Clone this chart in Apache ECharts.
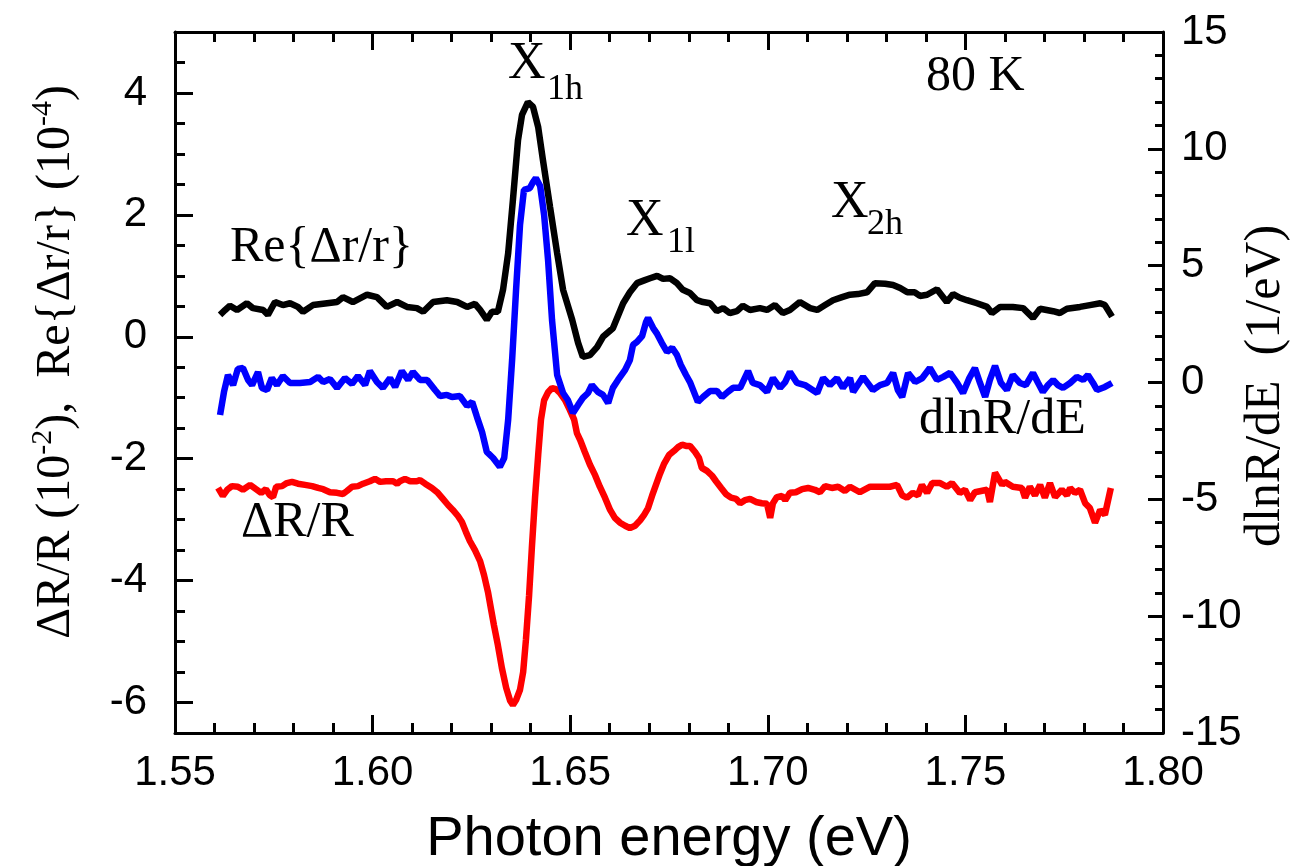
<!DOCTYPE html>
<html>
<head>
<meta charset="utf-8">
<script src="https://cdn.jsdelivr.net/npm/echarts@6/dist/echarts.min.js"></script>
<style>
html,body{margin:0;padding:0;background:#fff;}
#c{width:1295px;height:866px;}
</style>
</head>
<body>
<div id="c"></div>
<script>
// ---- data ----
const blackE = [1.5614,1.5627,1.5639,1.5657,1.5682,1.5697,1.5723,1.5735,1.5753,1.5773,1.5791,1.5811,1.5824,1.5849,1.5885,1.5910,1.5925,1.5950,1.5986,1.6011,1.6036,1.6062,1.6087,1.6112,1.6128,1.6153,1.6188,1.6214,1.6239,1.6259,1.6272,1.6289,1.6302,1.6317,1.6330,1.6343,1.6355,1.6368,1.6378,1.6393,1.6406,1.6419,1.6431,1.6449,1.6467,1.6482,1.6505,1.6520,1.6532,1.6550,1.6568,1.6583,1.6608,1.6634,1.6651,1.6669,1.6689,1.6702,1.6720,1.6735,1.6753,1.6770,1.6785,1.6803,1.6821,1.6836,1.6854,1.6871,1.6887,1.6904,1.6922,1.6937,1.6955,1.6980,1.6998,1.7018,1.7038,1.7056,1.7081,1.7107,1.7125,1.7145,1.7165,1.7188,1.7208,1.7228,1.7251,1.7271,1.7297,1.7317,1.7335,1.7353,1.7372,1.7385,1.7403,1.7428,1.7453,1.7469,1.7486,1.7504,1.7529,1.7555,1.7567,1.7588,1.7620,1.7646,1.7671,1.7689,1.7722,1.7739,1.7757,1.7790,1.7815,1.7841,1.7853,1.7871];
const blackV = [0.36,0.44,0.51,0.44,0.55,0.47,0.44,0.36,0.57,0.52,0.55,0.49,0.41,0.52,0.55,0.57,0.65,0.57,0.69,0.65,0.49,0.57,0.49,0.47,0.41,0.57,0.60,0.57,0.49,0.54,0.44,0.28,0.41,0.41,0.77,1.37,2.24,3.23,3.64,3.85,3.77,3.44,2.90,2.13,1.37,0.77,0.28,-0.10,-0.33,-0.30,-0.17,0.00,0.14,0.55,0.73,0.88,0.93,0.96,1.00,0.95,0.96,0.88,0.77,0.72,0.60,0.57,0.55,0.42,0.47,0.39,0.42,0.51,0.44,0.47,0.44,0.52,0.39,0.44,0.57,0.47,0.44,0.52,0.60,0.65,0.69,0.70,0.73,0.88,0.87,0.85,0.80,0.73,0.73,0.67,0.69,0.78,0.57,0.70,0.64,0.60,0.55,0.49,0.39,0.49,0.49,0.47,0.31,0.46,0.42,0.39,0.46,0.49,0.52,0.55,0.52,0.33];

const blueE = [1.5614,1.5624,1.5634,1.5647,1.5659,1.5672,1.5685,1.5695,1.5710,1.5720,1.5733,1.5745,1.5758,1.5773,1.5791,1.5816,1.5842,1.5862,1.5875,1.5892,1.5910,1.5930,1.5948,1.5963,1.5981,1.5993,1.6011,1.6026,1.6044,1.6057,1.6074,1.6090,1.6102,1.6120,1.6138,1.6158,1.6171,1.6188,1.6201,1.6221,1.6239,1.6252,1.6264,1.6277,1.6289,1.6305,1.6322,1.6333,1.6343,1.6353,1.6363,1.6373,1.6383,1.6398,1.6406,1.6413,1.6424,1.6434,1.6444,1.6454,1.6467,1.6482,1.6494,1.6507,1.6520,1.6532,1.6545,1.6555,1.6570,1.6583,1.6596,1.6608,1.6621,1.6639,1.6651,1.6659,1.6669,1.6682,1.6692,1.6697,1.6710,1.6720,1.6732,1.6745,1.6758,1.6770,1.6780,1.6793,1.6803,1.6813,1.6823,1.6836,1.6854,1.6871,1.6884,1.6899,1.6912,1.6930,1.6950,1.6962,1.6980,1.6998,1.7013,1.7031,1.7044,1.7056,1.7074,1.7094,1.7125,1.7140,1.7157,1.7175,1.7190,1.7208,1.7216,1.7241,1.7266,1.7284,1.7302,1.7317,1.7329,1.7340,1.7355,1.7373,1.7391,1.7410,1.7428,1.7444,1.7461,1.7479,1.7494,1.7510,1.7524,1.7537,1.7550,1.7562,1.7575,1.7590,1.7605,1.7620,1.7638,1.7653,1.7671,1.7684,1.7696,1.7709,1.7722,1.7734,1.7747,1.7765,1.7782,1.7798,1.7810,1.7823,1.7833,1.7853,1.7871];
const blueV = [-1.39,-0.40,0.32,-0.11,0.58,0.62,0.11,-0.11,0.45,-0.23,-0.32,0.19,-0.11,0.28,-0.02,-0.02,0.02,0.24,0.02,0.15,-0.23,0.19,-0.06,0.28,-0.11,0.49,0.02,-0.23,0.19,-0.19,0.49,0.11,0.45,0.11,0.11,-0.32,-0.58,-0.53,-0.62,-0.58,-1.00,-0.83,-1.47,-2.12,-2.97,-3.23,-3.61,-3.23,-1.60,0.96,3.96,6.74,8.24,8.32,8.58,8.75,8.41,7.17,5.24,2.68,0.32,-0.45,-0.75,-1.30,-0.96,-0.66,-0.45,-0.11,-0.40,-0.53,-0.88,-0.23,0.11,0.54,0.96,1.61,1.74,1.99,2.59,2.76,2.33,2.08,1.69,1.31,1.48,1.18,0.75,0.32,0.02,-0.40,-0.83,-0.62,-0.36,-0.36,-0.62,-0.40,-0.23,-0.23,0.49,-0.02,-0.11,-0.40,0.19,-0.23,0.02,0.45,-0.02,-0.11,-0.45,0.19,-0.11,0.19,-0.23,0.19,-0.40,0.24,-0.32,-0.11,-0.02,0.41,-0.32,-0.62,0.41,0.02,0.19,0.62,0.11,0.24,0.41,-0.02,-0.45,0.19,0.62,-0.02,-0.62,0.11,0.71,-0.02,-0.32,0.32,-0.02,-0.11,0.41,-0.02,-0.40,-0.11,0.11,-0.11,-0.23,-0.02,0.24,0.11,0.32,-0.02,-0.32,-0.19,-0.02];

const redE = [1.5609,1.5621,1.5632,1.5644,1.5659,1.5672,1.5690,1.5705,1.5718,1.5730,1.5740,1.5748,1.5756,1.5771,1.5783,1.5796,1.5811,1.5829,1.5847,1.5862,1.5875,1.5892,1.5910,1.5925,1.5935,1.5948,1.5963,1.5976,1.5993,1.6006,1.6019,1.6034,1.6052,1.6062,1.6069,1.6082,1.6095,1.6112,1.6120,1.6133,1.6150,1.6165,1.6178,1.6191,1.6203,1.6216,1.6226,1.6236,1.6246,1.6259,1.6272,1.6282,1.6292,1.6300,1.6307,1.6317,1.6327,1.6338,1.6348,1.6355,1.6363,1.6373,1.6381,1.6388,1.6396,1.6403,1.6411,1.6419,1.6426,1.6434,1.6444,1.6454,1.6464,1.6474,1.6487,1.6499,1.6510,1.6517,1.6525,1.6537,1.6550,1.6563,1.6575,1.6588,1.6601,1.6613,1.6626,1.6639,1.6651,1.6664,1.6677,1.6687,1.6697,1.6707,1.6717,1.6727,1.6737,1.6750,1.6763,1.6773,1.6783,1.6793,1.6803,1.6816,1.6826,1.6833,1.6846,1.6859,1.6869,1.6882,1.6894,1.6907,1.6920,1.6930,1.6942,1.6955,1.6970,1.6985,1.6998,1.7006,1.7013,1.7023,1.7036,1.7044,1.7056,1.7071,1.7087,1.7102,1.7119,1.7132,1.7145,1.7162,1.7178,1.7195,1.7208,1.7233,1.7259,1.7309,1.7327,1.7340,1.7352,1.7367,1.7380,1.7390,1.7403,1.7416,1.7436,1.7453,1.7466,1.7486,1.7499,1.7512,1.7524,1.7555,1.7562,1.7575,1.7593,1.7600,1.7620,1.7643,1.7651,1.7663,1.7676,1.7689,1.7701,1.7714,1.7727,1.7744,1.7757,1.7765,1.7777,1.7790,1.7803,1.7815,1.7828,1.7841,1.7853,1.7868];
const redV = [-2.48,-2.61,-2.51,-2.45,-2.46,-2.51,-2.43,-2.50,-2.56,-2.50,-2.60,-2.63,-2.46,-2.45,-2.40,-2.38,-2.41,-2.43,-2.45,-2.48,-2.50,-2.55,-2.56,-2.58,-2.53,-2.46,-2.45,-2.41,-2.37,-2.33,-2.38,-2.37,-2.37,-2.41,-2.37,-2.33,-2.37,-2.37,-2.35,-2.41,-2.48,-2.56,-2.66,-2.76,-2.84,-2.94,-3.04,-3.20,-3.35,-3.50,-3.68,-3.91,-4.19,-4.48,-4.73,-5.06,-5.43,-5.76,-5.97,-6.04,-5.96,-5.79,-5.50,-4.97,-4.24,-3.46,-2.64,-1.94,-1.36,-1.04,-0.91,-0.84,-0.86,-0.92,-1.04,-1.20,-1.36,-1.58,-1.69,-1.89,-2.10,-2.27,-2.46,-2.64,-2.84,-2.97,-3.05,-3.10,-3.14,-3.10,-3.01,-2.92,-2.81,-2.61,-2.43,-2.25,-2.09,-1.94,-1.87,-1.81,-1.77,-1.79,-1.79,-1.89,-1.99,-2.15,-2.20,-2.28,-2.37,-2.48,-2.58,-2.64,-2.66,-2.73,-2.68,-2.66,-2.71,-2.73,-2.74,-2.97,-2.73,-2.63,-2.61,-2.68,-2.56,-2.55,-2.50,-2.48,-2.51,-2.55,-2.45,-2.48,-2.46,-2.53,-2.46,-2.55,-2.46,-2.46,-2.43,-2.60,-2.64,-2.56,-2.60,-2.43,-2.56,-2.40,-2.40,-2.46,-2.40,-2.56,-2.51,-2.68,-2.55,-2.51,-2.71,-2.23,-2.43,-2.38,-2.46,-2.48,-2.64,-2.46,-2.60,-2.43,-2.64,-2.40,-2.63,-2.51,-2.60,-2.48,-2.56,-2.51,-2.73,-2.81,-3.05,-2.84,-2.92,-2.48];

const leftMajorTicks = [-6, -4, -2, 0, 2, 4];
const xTitle = 'Photon energy (eV)';
const leftTitleParts = [['ΔR/R (10', false], ['-2', true], ['),  Re{Δr/r} (10', false], ['-4', true], [')', false]];
const rightTitle = 'dlnR/dE  (1/eV)';

// ---- chart ----
const zip = (a, b) => a.map((v, i) => [v, b[i]]);
const chart = echarts.init(document.getElementById('c'), null, {renderer: 'canvas'});
const SANS = '"Liberation Sans", Arial, sans-serif';
const SERIF = '"Liberation Serif", "Times New Roman", serif';
const axisLine = {show: true, onZero: false, lineStyle: {color: '#000', width: 3}};
const lbl = {color: '#000', fontFamily: SANS, fontSize: 42};

const xBase = {
  type: 'value', min: 1.55, max: 1.80, interval: 0.05,
  axisLine: axisLine,
  axisTick: {show: true, inside: true, length: 18, lineStyle: {color: '#000', width: 3}},
  minorTick: {show: true, splitNumber: 5, length: 10, lineStyle: {color: '#000', width: 3}},
  splitLine: {show: false}, minorSplitLine: {show: false}
};

const option = {
  backgroundColor: '#fff',
  animation: false,
  grid: {left: 175, right: 132, top: 32, bottom: 133, containLabel: false, outerBoundsMode: 'none'},
  xAxis: [
    Object.assign({}, xBase, {
      position: 'bottom',
      axisLabel: Object.assign({}, lbl, {margin: 19, formatter: v => v.toFixed(2)}),
      name: xTitle, nameLocation: 'middle', nameGap: 79,
      nameTextStyle: {color: '#000', fontFamily: SANS, fontSize: 56}
    }),
    Object.assign({}, xBase, {position: 'top', axisLabel: {show: false}})
  ],
  yAxis: [
    {
      type: 'value', position: 'left', min: -6.5, max: 5,
      axisLine: axisLine,
      axisTick: {show: true, inside: true, length: 18, customValues: leftMajorTicks, lineStyle: {color: '#000', width: 3}},
      axisLabel: Object.assign({}, lbl, {margin: 28, customValues: leftMajorTicks}),
      splitLine: {show: false}
    },
    {
      type: 'value', position: 'right', min: -15, max: 15, interval: 5,
      axisLine: axisLine,
      axisTick: {show: true, inside: true, length: 15, lineStyle: {color: '#000', width: 3}},
      minorTick: {show: true, splitNumber: 5, length: 8, lineStyle: {color: '#000', width: 3}},
      axisLabel: Object.assign({}, lbl, {margin: 18}),
      splitLine: {show: false}, minorSplitLine: {show: false}
    },
    {
      type: 'value', position: 'left', min: -6.5, max: 5, interval: 0.5,
      axisLine: {show: false, onZero: false},
      axisTick: {show: true, inside: true, length: 10, lineStyle: {color: '#000', width: 3}},
      axisLabel: {show: false},
      splitLine: {show: false}
    }
  ],
  series: [
    {name: 'Re{Δr/r}', type: 'line', xAxisIndex: 0, yAxisIndex: 0, data: zip(blackE, blackV),
     showSymbol: false, symbol: 'none', lineStyle: {color: '#000000', width: 6.5}, itemStyle: {color: '#000'}},
    {name: 'ΔR/R', type: 'line', xAxisIndex: 0, yAxisIndex: 0, data: zip(redE, redV),
     showSymbol: false, symbol: 'none', lineStyle: {color: '#ff0000', width: 6.5}, itemStyle: {color: '#f00'}},
    {name: 'dlnR/dE', type: 'line', xAxisIndex: 0, yAxisIndex: 1, data: zip(blueE, blueV),
     showSymbol: false, symbol: 'none', lineStyle: {color: '#0000ff', width: 6.5}, itemStyle: {color: '#00f'}}
  ],
  graphic: []
};

function t(x, y, text, size, extra) {
  return Object.assign({
    type: 'text', x: x, y: y, silent: true,
    style: {text: text, fill: '#000', font: size + 'px ' + SERIF, align: 'left', verticalAlign: 'middle'}
  }, extra || {});
}

// left axis title built from pieces (braces are literal text, superscripts smaller)
const mctx = document.createElement('canvas').getContext('2d');
const MAIN_SIZE = 48, SUP_SIZE = 30;
const pieceW = parts => parts.map(p => {
  mctx.font = (p[1] ? SUP_SIZE : MAIN_SIZE) + 'px ' + SERIF;
  return mctx.measureText(p[0]).width;
});
const widths = pieceW(leftTitleParts);
const totalW = widths.reduce((a, b) => a + b, 0);
let cx = -totalW / 2;
const leftTitleChildren = leftTitleParts.map((p, i) => {
  const el = {
    type: 'text', x: cx, y: p[1] ? -13 : 0, silent: true,
    style: {text: p[0], fill: '#000', font: (p[1] ? SUP_SIZE : MAIN_SIZE) + 'px ' + SERIF, align: 'left', verticalAlign: 'middle'}
  };
  cx += widths[i];
  return el;
});

option.graphic = [
  t(508, 64, 'X', 52), t(547, 90, '1h', 36),
  t(626, 221, 'X', 52), t(667, 243, '1l', 36),
  t(831, 203, 'X', 52), t(867, 225, '2h', 36),
  t(926, 77, '80 K', 50),
  t(230, 248, 'Re{Δr/r}', 50),
  t(241, 523, 'ΔR/R', 50),
  t(919, 420, 'dlnR/dE', 50),
  {type: 'group', x: 56, y: 362, rotation: Math.PI / 2, children: leftTitleChildren},
  {
    type: 'text', x: 1266, y: 386, rotation: Math.PI / 2, silent: true,
    style: {text: rightTitle, font: '50px ' + SERIF, align: 'center', verticalAlign: 'middle', fill: '#000'}
  }
];

chart.setOption(option);
</script>
</body>
</html>
